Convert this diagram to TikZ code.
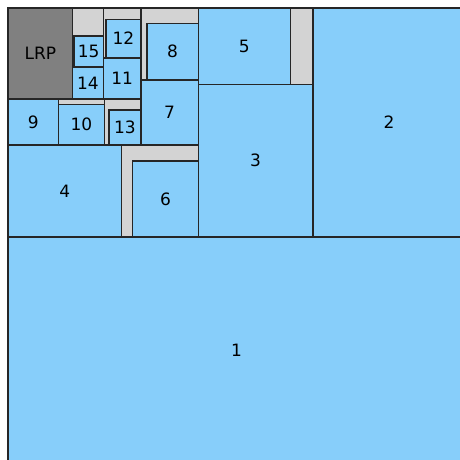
\documentclass[tikz,border=0pt]{standalone}
\usepackage{fontspec}
\setmainfont{DejaVu Sans}
\usepackage{tikz}
\usetikzlibrary{calc}
\definecolor{boxblue}{HTML}{87CEFA}
\definecolor{padgray}{HTML}{D3D3D3}
\definecolor{lrpgray}{HTML}{808080}
% block: style, corner, corner, label
\newcommand{\blk}[6]{%
	\draw[#1] (#2,#3) rectangle (#4,#5);
	\node[lbl] (b#6) at ($(#2,#3)!0.5!(#4,#5)$) {#6};}

\begin{document}
\begin{tikzpicture}[
			x=1pt, y=-1pt,
			box/.style={draw=black!85, fill=boxblue, line width=1.1pt},
			pad/.style={draw=black!85, fill=padgray, line width=1.1pt},
			lrp/.style={draw=black!85, fill=lrpgray, line width=1.1pt},
			lbl/.style={font=\fontsize{17}{20}\selectfont, inner sep=0pt}
			]
			\useasboundingbox (0,0) rectangle (460,460);
			\clip (0,0) rectangle (460,460);
			
			% 1. BIG BLOCKS
			\blk{box}{8}{237}{465}{463}{1}
			\blk{box}{313}{8}{465}{237}{2}
			\blk{box}{198.3}{84.3}{313}{237}{3}
			\draw[pad] (198.3,8) rectangle (313,84.3);
			\blk{box}{198.3}{8}{290.3}{84.3}{5}
			
			% 2. MIDDLE ROW
			\blk{box}{8}{145}{121.7}{237}{4}
			\draw[pad] (121.7,145) rectangle (198.3,237);
			\blk{box}{132.7}{161}{198.3}{237}{6}
			
			% 3. COLUMN OF 7 / 8
			\blk{box}{141}{80}{198.3}{145}{7}
			\draw[pad] (141,8) rectangle (198.3,80);
			\blk{box}{147}{23.3}{198.3}{80}{8}
			
			% 4. SMALL BLOCKS (top left)
			\blk{lrp}{8}{8}{72.7}{99}{LRP}
			\blk{box}{8}{99}{58.7}{145}{9}
			\draw[pad] (58.7,99) rectangle (104.3,145);
			\blk{box}{58.7}{104.3}{104.3}{145}{10}
			\draw[pad] (104.3,99) rectangle (141,145);
			\blk{box}{109}{110}{141}{145}{13}
			\blk{box}{103.3}{58}{141}{99}{11}
			\draw[pad] (103.3,8) rectangle (141,58);
			\blk{box}{106}{19.3}{141}{58}{12}
			\blk{box}{72.7}{67}{103.3}{99}{14}
			\draw[pad] (72.7,8) rectangle (103.3,67);
			\blk{box}{74}{36}{103.3}{67}{15}
		\end{tikzpicture}
\end{document}
